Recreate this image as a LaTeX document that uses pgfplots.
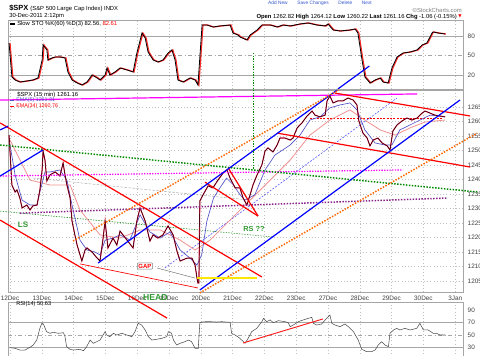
\documentclass[border=0pt]{standalone}
\usepackage{pgfplots}
\pgfplotsset{compat=1.18}
\usepackage{pgfplotstable}
\usepgfplotslibrary{fillbetween}
\usepackage{fontspec}
\setmainfont{Liberation Sans}
\newfontfamily\djv{DejaVu Sans}
\newcommand\fs[1]{\fontsize{#1}{#1}\selectfont}
\definecolor{bl}{HTML}{0000FF}
\definecolor{org}{HTML}{FF6600}
\definecolor{dgreen}{HTML}{008800}
\definecolor{purp}{HTML}{882288}
\definecolor{magn}{HTML}{FF00FF}
\definecolor{lgreen}{HTML}{339933}
\definecolor{ema5}{HTML}{5050C8}
\definecolor{ema34}{HTML}{F09090}
\definecolor{pricered}{HTML}{E0103C}
\definecolor{rsigreen}{HTML}{8CAE8C}
\definecolor{rsibrown}{HTML}{B89A9A}
\definecolor{hdr}{HTML}{3355CC}

\pgfplotstableread{
d p
-0.03 1255.3
0.06 1238.1
0.16 1235.7
0.22 1236.4
0.31 1233.6
0.38 1230.2
0.53 1231.2
0.63 1229.5
0.72 1230.9
0.85 1231.2
0.94 1236.4
1.01 1243.3
1.04 1249.8
1.10 1246.7
1.16 1239.5
1.26 1241.6
1.42 1242.6
1.57 1241.2
1.67 1245.7
1.73 1241.6
1.79 1238.1
1.89 1233.6
1.95 1225.7
2.04 1220.9
2.11 1217.4
2.26 1211.9
2.36 1215.7
2.42 1216.4
2.58 1215.0
2.74 1212.9
2.83 1211.9
2.92 1219.1
2.99 1225.7
3.08 1216.4
3.24 1219.8
3.36 1217.4
3.46 1222.2
3.68 1219.1
3.87 1216.4
3.99 1225.7
4.09 1230.2
4.25 1225.7
4.40 1218.8
4.50 1220.9
4.65 1219.8
4.81 1220.9
4.97 1224.0
5.13 1220.9
5.25 1215.3
5.35 1211.9
5.57 1212.9
5.72 1212.9
5.82 1210.5
5.88 1206.0
5.91 1204.3
5.94 1204.3
5.97 1232.6
6.07 1234.7
6.23 1237.8
6.38 1237.1
6.54 1239.8
6.70 1242.2
6.82 1243.3
6.92 1240.5
7.08 1237.1
7.23 1237.1
7.33 1233.6
7.45 1231.2
7.55 1234.7
7.64 1238.1
7.77 1241.6
7.92 1245.0
8.02 1249.8
8.11 1250.9
8.27 1249.5
8.40 1251.9
8.49 1254.3
8.65 1254.3
8.81 1253.6
8.90 1254.3
9.03 1257.8
9.18 1259.5
9.34 1261.9
9.50 1263.6
9.59 1262.2
9.75 1261.6
9.91 1262.2
9.97 1267.1
10.06 1268.8
10.16 1266.4
10.31 1267.1
10.47 1267.1
10.63 1268.1
10.79 1267.4
10.91 1265.7
10.97 1260.2
11.10 1256.0
11.23 1254.3
11.32 1251.6
11.42 1253.6
11.57 1254.3
11.70 1252.6
11.86 1251.6
11.95 1250.2
12.04 1256.7
12.17 1258.8
12.33 1260.2
12.48 1261.2
12.64 1260.5
12.80 1261.2
12.96 1262.9
13.05 1263.6
13.21 1262.9
13.36 1262.2
13.52 1261.9
13.68 1261.6
}\price

\pgfplotstableread{
d p
0.00 1251.9
0.16 1241.6
0.38 1232.9
0.63 1231.2
0.85 1231.2
0.94 1235.7
1.10 1242.6
1.26 1242.6
1.57 1243.3
1.79 1239.8
1.95 1231.2
2.20 1219.1
2.42 1215.7
2.67 1215.0
2.83 1214.0
2.99 1219.1
3.24 1219.8
3.46 1220.9
3.77 1219.1
4.09 1227.8
4.40 1221.9
4.72 1219.8
5.03 1221.9
5.35 1215.7
5.66 1212.9
5.88 1210.5
6.03 1214.1
6.19 1225.6
6.40 1233.6
6.60 1237.1
6.81 1240.5
7.02 1238.2
7.23 1234.8
7.39 1232.9
7.70 1234.7
8.02 1243.3
8.33 1248.4
8.81 1251.9
9.12 1255.3
9.43 1260.5
9.75 1261.6
10.06 1264.7
10.38 1265.7
10.69 1266.4
10.91 1264.0
11.16 1257.1
11.48 1252.6
11.79 1251.9
12.01 1251.9
12.26 1257.1
12.58 1258.8
12.89 1260.5
13.21 1262.2
13.68 1261.6
}\emafive

\pgfplotstableread{
d p
0.00 1253.6
0.63 1239.8
1.26 1238.1
1.89 1238.1
2.20 1229.5
2.83 1220.9
3.46 1219.8
4.09 1222.6
4.72 1222.6
5.35 1219.1
5.82 1215.7
6.29 1219.1
6.92 1226.0
7.55 1232.9
8.18 1239.8
8.81 1246.7
9.43 1255.3
10.06 1260.5
10.69 1264.0
11.16 1260.5
11.64 1257.1
12.11 1255.3
12.58 1257.8
13.05 1259.8
13.68 1260.5
}\ema

\pgfplotstableread{
d v
-0.03 69.2
0.06 16.9
0.16 12.3
0.31 9.2
0.53 10.8
0.72 12.3
0.88 15.4
1.01 43.1
1.04 66.2
1.16 58.5
1.19 43.1
1.32 46.2
1.42 47.7
1.57 47.7
1.73 46.2
1.82 24.6
1.95 12.3
2.11 7.7
2.26 4.6
2.42 9.2
2.58 20.0
2.74 15.4
2.83 12.3
2.99 20.0
3.05 30.8
3.14 20.0
3.30 24.6
3.46 30.8
3.68 27.7
3.87 24.6
3.99 53.8
4.15 84.6
4.25 76.9
4.34 55.4
4.50 43.1
4.65 40.0
4.81 43.1
4.97 53.8
5.09 58.5
5.19 43.1
5.28 12.3
5.44 9.2
5.66 15.4
5.82 12.3
5.91 4.6
6.04 96.9
6.19 96.9
6.38 93.8
6.60 95.4
6.92 96.9
7.01 84.6
7.17 81.5
7.23 78.5
7.45 73.8
7.55 81.5
7.77 89.2
7.92 96.9
8.18 96.9
8.40 93.8
8.58 96.9
8.81 95.4
9.12 98.5
9.37 100.0
9.65 96.9
9.91 95.4
10.00 98.5
10.16 89.2
10.38 87.7
10.69 89.2
10.85 90.8
10.94 84.6
11.07 43.1
11.16 16.9
11.32 7.7
11.48 12.3
11.64 15.4
11.73 9.2
11.89 7.7
12.01 30.8
12.17 47.7
12.36 53.8
12.58 55.4
12.80 58.5
12.96 66.2
13.11 69.2
13.27 84.6
13.30 86.2
13.46 84.6
13.68 83.1
}\sto

\pgfplotstableread{
d v
0.00 30.0
0.16 29.0
0.31 26.3
0.47 26.3
0.63 30.6
0.73 34.3
0.84 42.2
0.94 60.8
1.00 68.8
1.05 67.7
1.15 55.5
1.26 52.9
1.36 54.5
1.52 52.9
1.68 53.9
1.73 47.5
1.78 31.6
1.89 27.4
1.99 26.3
2.20 27.4
2.31 25.2
2.41 31.6
2.52 42.2
2.62 37.0
2.73 39.6
2.83 42.2
2.99 55.5
3.04 50.2
3.14 47.5
3.25 52.9
3.36 50.2
3.51 52.9
3.67 50.2
3.83 47.5
3.93 55.5
4.03 68.8
4.14 66.1
4.25 58.2
4.35 47.5
4.46 42.2
4.61 43.3
4.77 44.9
4.93 47.5
4.98 55.5
5.08 52.9
5.14 42.2
5.24 34.3
5.35 37.0
5.50 39.6
5.61 42.2
5.71 39.6
5.82 29.0
5.92 29.0
5.97 69.8
6.08 71.2
6.29 71.4
6.50 70.8
6.66 71.4
6.82 70.6
6.92 70.8
6.97 52.9
7.08 50.2
7.23 44.9
7.39 37.0
7.49 44.9
7.60 55.5
7.76 60.8
7.92 71.4
7.97 76.7
8.07 71.4
8.18 74.1
8.28 69.8
8.44 73.0
8.65 71.4
8.75 69.8
8.81 63.4
8.91 66.1
9.07 71.4
9.22 74.1
9.38 76.7
9.49 78.3
9.54 68.8
9.64 66.1
9.80 67.7
9.91 74.1
10.01 79.4
10.06 82.0
10.12 68.8
10.22 66.1
10.38 63.4
10.53 67.7
10.64 63.4
10.80 55.5
10.95 42.2
11.06 27.4
11.22 23.6
11.37 23.6
11.48 26.3
11.58 34.3
11.69 39.6
11.79 34.3
11.90 31.6
11.95 52.9
12.06 58.2
12.16 60.8
12.26 58.2
12.42 60.8
12.58 58.2
12.79 60.8
12.89 68.8
13.00 58.2
13.15 58.2
13.31 52.9
13.42 52.9
13.52 50.2
13.68 50.2
}\rsi

\pgfplotsset{
  panel/.style={
    scale only axis, width=341.25pt,
    xmin=-0.063, xmax=14.245,
    axis line style={draw=gray!70, line width=0.4pt},
    xtick={0,1,...,14},
    xmajorgrids=true,
    grid style={dotted, gray!50, line width=0.4pt},
    major tick length=0pt,
    yticklabel pos=right,
    ticklabel style={font=\fs{4.8}, text=black!75},
    scaled y ticks=false,
    /pgf/number format/1000 sep={},
    /pgf/number format/assume math mode=true,
  },
  odot/.style={line width=1.1pt, dash pattern=on 1.1pt off 1.1pt},
  tl/.style={line width=0.9pt},
}

\begin{document}
\begin{tikzpicture}

% ---------- Stochastic panel ----------
\begin{axis}[panel, at={(6pt,-15pt)}, anchor=north west, height=51.75pt,
  ymin=-1.54, ymax=104.6, ytick={20,50,80}, xticklabels={}]
\addplot[gray!70, line width=0.5pt] coordinates {(-0.063,80)(14.245,80)};
\addplot[gray!70, line width=0.5pt] coordinates {(-0.063,20)(14.245,20)};
\addplot[gray!70, line width=0.5pt, dash dot] coordinates {(-0.063,50)(14.245,50)};
\addplot[red!85, line width=0.9pt, xshift=0.7pt] table {\sto};
\addplot[black, line width=0.6pt] table {\sto};
\addplot[bl, tl] coordinates {(10.31,-1.54)(11.30,33.8)};
\addplot[dgreen, line width=0.8pt, dash pattern=on 1pt off 1pt] coordinates {(7.67,53.8)(7.67,-1.54)};
\end{axis}

% ---------- Price panel ----------
\begin{axis}[panel, at={(6pt,-67.5pt)}, anchor=north west, height=151.5pt,
  ymin=1201.21, ymax=1270.86, ytick={1205,1210,...,1265}, ymajorgrids=true,
  xticklabels={12Dec,13Dec,14Dec,15Dec,16Dec,19Dec,20Dec,21Dec,22Dec,23Dec,27Dec,28Dec,29Dec,30Dec,3Jan},
  xticklabel style={yshift=0.8pt},
  clip=false]
\addplot[gray!60, line width=0.4pt, dash pattern=on 2pt off 1pt] coordinates {(0.72,1240.5)(7.55,1232.9)};
\addplot[lgreen, line width=0.5pt, dash pattern=on 1pt off 1pt] coordinates {(-0.31,1229.1)(8.24,1220.2)};
\addplot[bl!70, line width=0.4pt, dash pattern=on 1.5pt off 1pt] coordinates {(4.87,1209.5)(12.17,1268.1)};
\addplot[red, line width=0.4pt, dash pattern=on 1.5pt off 1pt] coordinates {(9.43,1261.2)(13.62,1261.2)};
\addplot[ema34, line width=0.6pt] table {\ema};
\addplot[ema5, line width=0.5pt] table {\emafive};
\addplot[pricered, line width=0.8pt] table {\price};
\addplot[black, line width=0.3pt] table {\price};
\addplot[magn, tl] coordinates {(-0.31,1267.4)(12.80,1269.5)};
\addplot[magn, line width=0.9pt, dash pattern=on 1pt off 1pt] coordinates {(-0.31,1241.2)(12.36,1243.3)};
\addplot[dgreen, odot] coordinates {(-0.31,1251.9)(14.69,1235.7)};
\addplot[purp, odot] coordinates {(0.31,1228.4)(13.74,1233.6)};
\addplot[red, tl] coordinates {(-0.31,1259.5)(7.92,1206.4)};
\addplot[red, tl] coordinates {(-0.31,1226.0)(4.94,1192.2)};
\addplot[red, line width=0.5pt] coordinates {(2.20,1210.9)(5.91,1202.6)};
\addplot[red, tl] coordinates {(6.13,1239.1)(7.80,1227.4)};
\addplot[red, tl] coordinates {(6.86,1244.0)(7.80,1227.4)};
\addplot[red, tl] coordinates {(10.22,1269.8)(14.47,1261.9)};
\addplot[red, tl] coordinates {(8.40,1256.0)(14.47,1244.3)};
\addplot[bl, tl] coordinates {(2.77,1211.2)(10.29,1270.86)};
\addplot[bl, tl] coordinates {(5.97,1201.9)(14.15,1267.4)};
\addplot[bl, tl] coordinates {(-0.31,1241.2)(1.04,1250.2)};
\addplot[bl, tl] coordinates {(-0.31,1257.1)(-0.06,1258.4)};
\addplot[org, odot] coordinates {(1.98,1218.8)(10.34,1270.86)};
\addplot[org, odot] coordinates {(5.97,1200.9)(14.69,1256.0)};
\addplot[dgreen, line width=0.8pt, dash pattern=on 1pt off 1pt] coordinates {(7.67,1270.86)(7.67,1243.3)};
\addplot[yellow!90!orange, line width=1.2pt] coordinates {(5.88,1206.0)(7.77,1206.0)};
\addplot[gray, line width=0.4pt] coordinates {(4.62,1209.5)(5.82,1206.0)};
\end{axis}

% ---------- RSI panel ----------
\begin{axis}[panel, at={(6pt,-226.5pt)}, anchor=north west, height=41.25pt,
  ymin=15.2, ymax=102.7, ytick={30,50,70,90}, xticklabels={}, clip=false]
\addplot[gray!70, line width=0.5pt] coordinates {(-0.063,70)(14.245,70)};
\addplot[gray!70, line width=0.5pt] coordinates {(-0.063,30)(14.245,30)};
\addplot[gray!70, line width=0.5pt, dash dot] coordinates {(-0.063,50)(14.245,50)};
\addplot[name path=rsi, draw=none] table {\rsi};
\addplot[name path=l70, draw=none] coordinates {(0,70)(13.68,70)};
\addplot[name path=l30, draw=none] coordinates {(0,30)(13.68,30)};
\addplot[rsigreen] fill between[of=rsi and l70, soft clip={(axis cs:-1,70) rectangle (axis cs:15,110)}];
\addplot[rsibrown] fill between[of=rsi and l30, soft clip={(axis cs:-1,0) rectangle (axis cs:15,30)}];
\addplot[gray!60!black, line width=0.4pt] table {\rsi};
\addplot[red!90, line width=0.7pt] coordinates {(7.33,37.5)(9.84,75.7)};
\end{axis}

% ---------- texts ----------
\node[anchor=north, inner sep=0, text=hdr] at (240pt,-0.2pt) {\fs{3.6}Add New\qquad Save Changes\qquad Delete\qquad Next};
\node[anchor=west, inner sep=0] at (6.75pt,-6.4pt) {\fs{5.6}\textbf{\$SPX} \fs{4.4}(S\&P 500 Large Cap Index) INDX};
\node[anchor=west, inner sep=0] at (6.75pt,-12pt) {\fs{4.4}30-Dec-2011 2:12pm};
\draw[black, line width=0.8pt] (7.5pt,-18pt) -- (11pt,-18pt);
\node[anchor=west, inner sep=0] at (12.75pt,-18pt) {\fs{4.4}Slow STO \%K(60) \%D(3) 82.56, \textcolor{red}{82.61}};
\node[anchor=east, inner sep=0, text=gray] at (346.5pt,-7.5pt) {\fs{4.4}\copyright StockCharts.com};
\node[anchor=east, inner sep=0] at (342.75pt,-12.4pt) {\fs{4.4}\textbf{Open} 1262.82 \textbf{High} 1264.12 \textbf{Low} 1260.22 \textbf{Last} 1261.16 \textbf{Chg} -1.06 (-0.15\%)};
\node[anchor=west, inner sep=0, text=red] at (343.5pt,-12.4pt) {\fs{3.2}\djv ▼};

\node[anchor=west, inner sep=0] at (12.75pt,-70.9pt) {\fs{4.4}\$SPX (15 min) 1261.16};
\draw[ema5, line width=0.8pt] (7.5pt,-75.4pt) -- (10.5pt,-75.4pt);
\node[anchor=west, inner sep=0, text=ema5] at (12pt,-75.4pt) {\fs{4}EMA(5) 1261.31};
\draw[red, line width=0.8pt] (7.5pt,-79.9pt) -- (10.5pt,-79.9pt);
\node[anchor=west, inner sep=0, text=red] at (12pt,-79.9pt) {\fs{4}EMA(34) 1260.76};

\node[text=lgreen, inner sep=0] at (17.25pt,-168.75pt) {\fs{6}\textbf{LS}};
\node[text=lgreen, inner sep=0] at (190.5pt,-171.4pt) {\fs{5.5}\textbf{RS ??}};
\node[text=lgreen, inner sep=0] at (116.6pt,-223.5pt) {\fs{6.5}\textbf{HEAD}};
\node[draw=gray, fill=white, rounded corners=0.8pt, inner sep=0.8pt, text=red] at (108.75pt,-199.5pt) {\fs{4.5}\textbf{GAP}};
\node[anchor=west, inner sep=0] at (12pt,-228.2pt) {\fs{4.2}RSI(14) 50.63};

\pgfresetboundingbox
\path (0,0) rectangle (360pt,-267pt);
\end{tikzpicture}
\end{document}
